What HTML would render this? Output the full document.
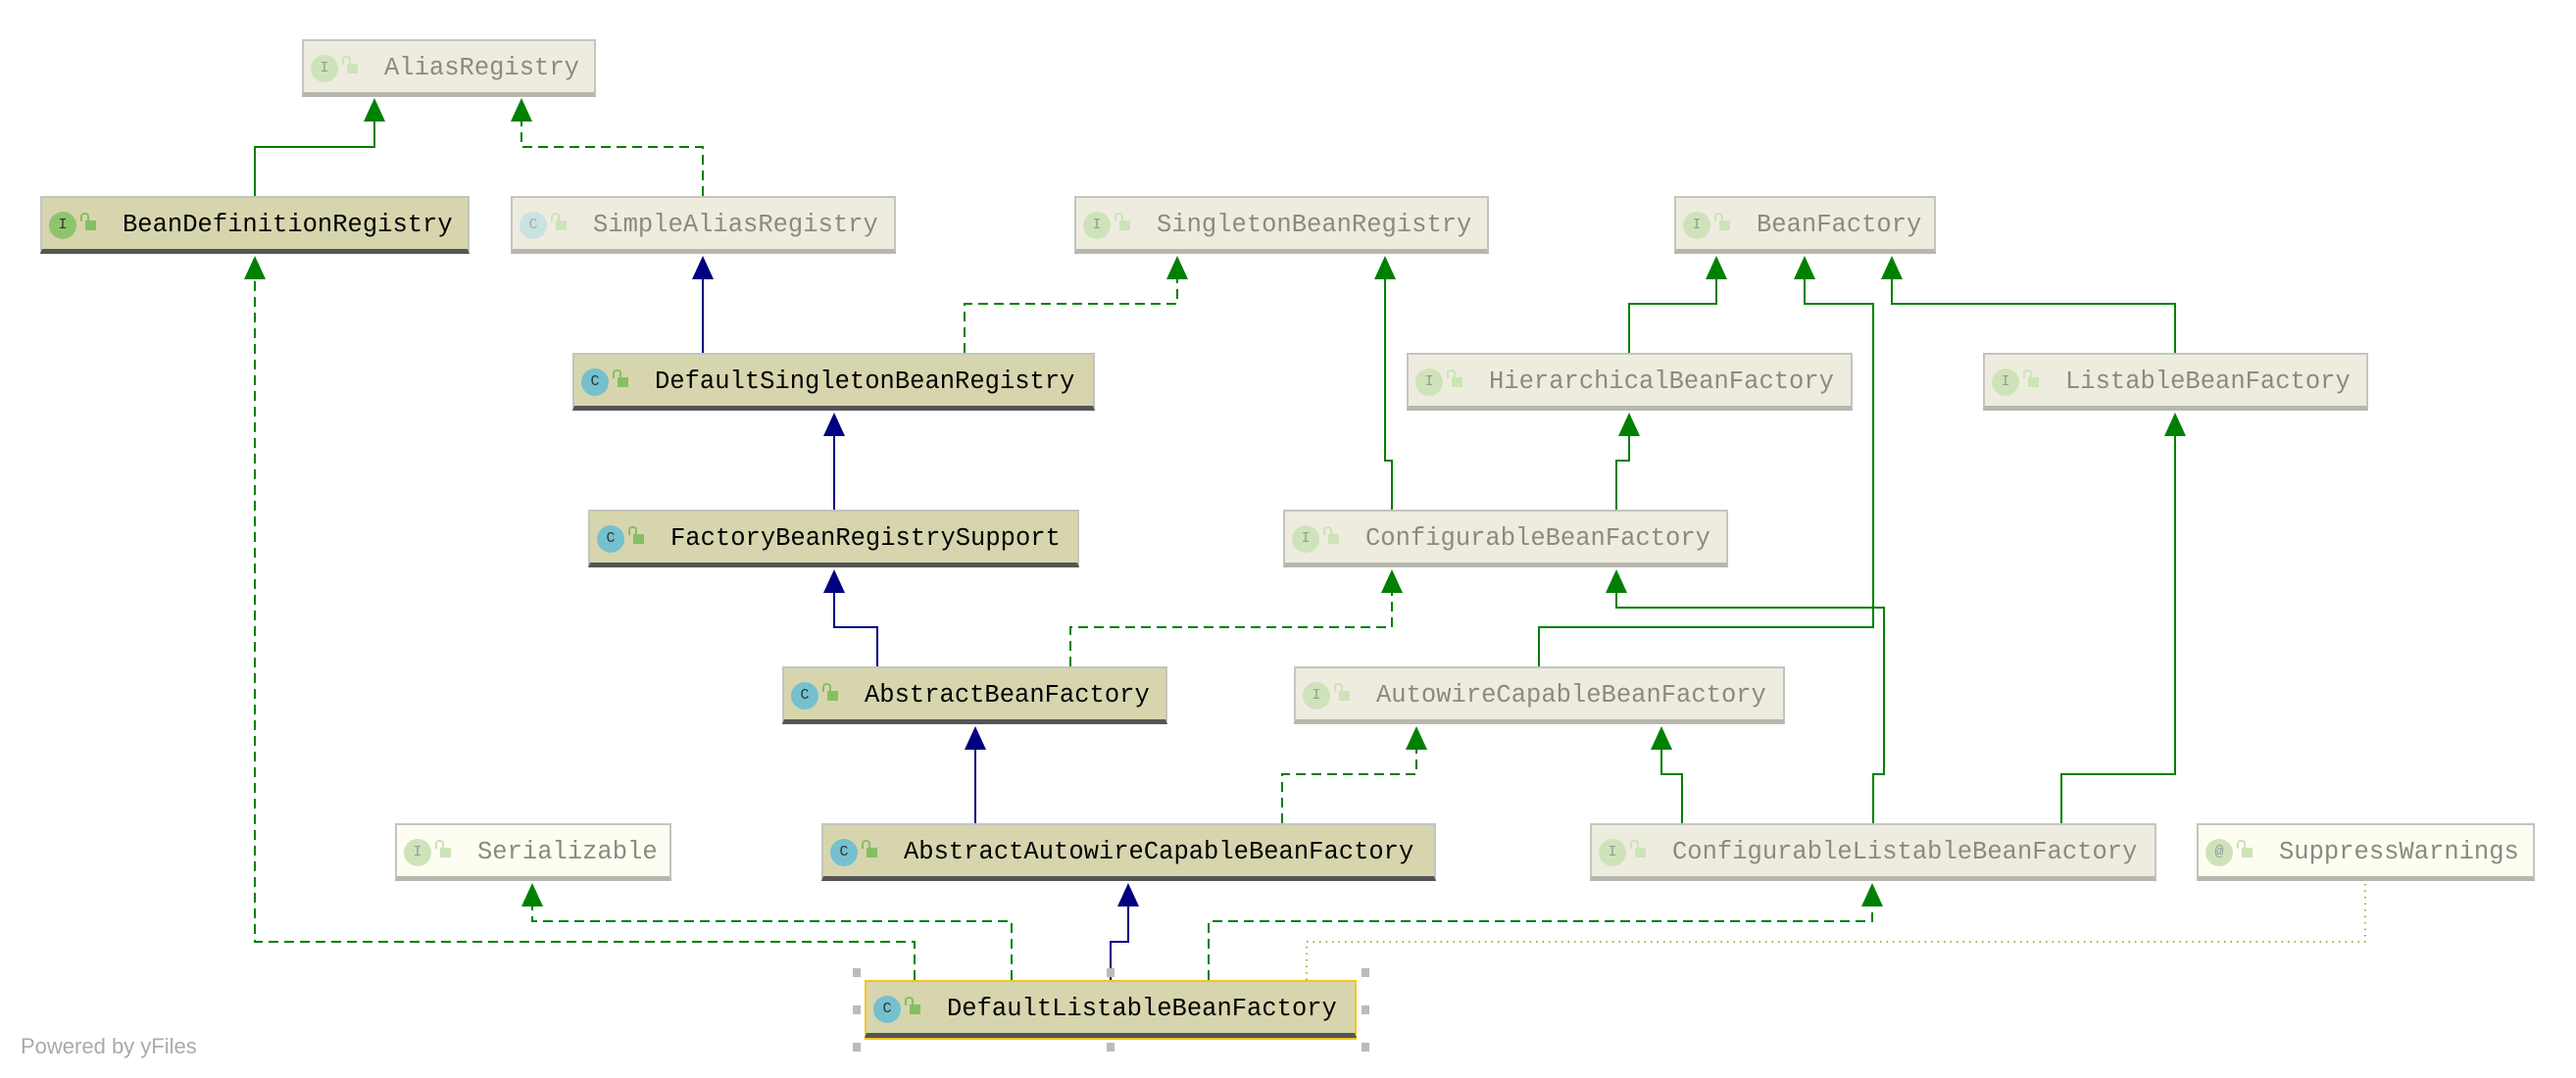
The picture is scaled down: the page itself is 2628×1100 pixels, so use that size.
<!DOCTYPE html>
<html><head><meta charset="utf-8"><style>
body{margin:0;width:2628px;height:1100px;background:#fff;position:relative;overflow:hidden;font-family:"Liberation Mono",monospace}
.b{position:absolute;height:59px;box-sizing:border-box;border:2px solid #c4c4c0;border-bottom:5px solid #b8b7ae;background:#eeecdf;color:#8a8a80;font-size:25.5px}
.b.s{background:#d7d5ae;color:#000;border-bottom-color:#555}
.b.y{background:#fdfdf1}
.b span.t{position:absolute;left:82px;top:13px;white-space:nowrap}
.ic{position:absolute;left:7px;top:14px;width:28px;height:28px;border-radius:50%;background:#cfe3ba;color:#999;font-size:15px;text-align:center;line-height:28px}
.s .ic{background:#8fc46f;color:#333}
.ic.c{background:#c9e3e3;color:#aaa}
.s .ic.c{background:#75c0cf;color:#333}
.lk{position:absolute;left:44px;top:23px;width:11px;height:10px;background:#cde3b8}
.lk:before{content:"";position:absolute;left:-5px;top:-8px;width:5px;height:7px;border:2px solid #cde3b8;border-bottom:none;border-radius:4px 4px 0 0}
.s .lk{background:#86bf62}.s .lk:before{border-color:#86bf62}
.h{position:absolute;width:8px;height:9px;background:#bbb}
</style></head><body>
<svg width="2628" height="1100" style="position:absolute;left:0;top:0">
<g fill="none" stroke-width="2">
<polyline stroke="#008000" points="260,200 260,150 382,150 382,120"/>
<polyline stroke="#008000" stroke-dasharray="10,6" points="717,200 717,150 532,150 532,120"/>
<polyline stroke="#000080" points="717,360 717,280"/>
<polyline stroke="#008000" stroke-dasharray="10,6" points="984,360 984,310 1201,310 1201,280"/>
<polyline stroke="#000080" points="851,520 851,440"/>
<polyline stroke="#000080" points="895,680 895,640 851,640 851,600"/>
<polyline stroke="#008000" stroke-dasharray="10,6" points="1092,680 1092,640 1420,640 1420,600"/>
<polyline stroke="#008000" points="1420,520 1420,470 1413,470 1413,280"/>
<polyline stroke="#008000" points="1649,520 1649,470 1662,470 1662,440"/>
<polyline stroke="#008000" points="1662,360 1662,310 1751,310 1751,280"/>
<polyline stroke="#008000" points="2219,360 2219,310 1930,310 1930,280"/>
<polyline stroke="#008000" points="1570,680 1570,640 1911,640 1911,310 1841,310 1841,280"/>
<polyline stroke="#008000" points="1911,840 1911,790 1922,790 1922,620 1649,620 1649,600"/>
<polyline stroke="#008000" points="1716,840 1716,790 1695,790 1695,760"/>
<polyline stroke="#008000" points="2103,840 2103,790 2219,790 2219,440"/>
<polyline stroke="#008000" stroke-dasharray="10,6" points="1308,840 1308,790 1445,790 1445,760"/>
<polyline stroke="#000080" points="995,840 995,760"/>
<polyline stroke="#000080" points="1133,1000 1133,961 1151,961 1151,920"/>
<polyline stroke="#008000" stroke-dasharray="10,6" points="933,1000 933,961 260,961 260,280"/>
<polyline stroke="#008000" stroke-dasharray="10,6" points="1032,1000 1032,940 543,940 543,920"/>
<polyline stroke="#008000" stroke-dasharray="10,6" points="1233,1000 1233,940 1910,940 1910,920"/>
<polyline stroke="#8a9a00" stroke-width="1.5" stroke-dasharray="1.5,5" points="1333,1000 1333,961 2413,961 2413,901"/>
</g>
<g fill="#008000">
<polygon points="382,100 371,124 393,124"/><polygon points="532,100 521,124 543,124"/>
<polygon points="1201,261 1190,285 1212,285"/><polygon points="1420,581 1409,605 1431,605"/>
<polygon points="1413,261 1402,285 1424,285"/><polygon points="1662,421 1651,445 1673,445"/>
<polygon points="1751,261 1740,285 1762,285"/><polygon points="1930,261 1919,285 1941,285"/>
<polygon points="1841,261 1830,285 1852,285"/><polygon points="1649,581 1638,605 1660,605"/>
<polygon points="1695,741 1684,765 1706,765"/><polygon points="2219,421 2208,445 2230,445"/>
<polygon points="1445,741 1434,765 1456,765"/><polygon points="260,261 249,285 271,285"/>
<polygon points="543,901 532,925 554,925"/><polygon points="1910,901 1899,925 1921,925"/>
</g>
<g fill="#000080">
<polygon points="717,261 706,285 728,285"/><polygon points="851,421 840,445 862,445"/>
<polygon points="851,581 840,605 862,605"/><polygon points="995,741 984,765 1006,765"/>
<polygon points="1151,901 1140,925 1162,925"/>
</g>
</svg>

<div class="b" style="left:308px;top:40px;width:300px"><div class="ic">I</div><div class="lk"></div><span class="t">AliasRegistry</span></div>
<div class="b s" style="left:41px;top:200px;width:438px"><div class="ic">I</div><div class="lk"></div><span class="t">BeanDefinitionRegistry</span></div>
<div class="b" style="left:521px;top:200px;width:393px"><div class="ic c">C</div><div class="lk"></div><span class="t">SimpleAliasRegistry</span></div>
<div class="b" style="left:1096px;top:200px;width:423px"><div class="ic">I</div><div class="lk"></div><span class="t">SingletonBeanRegistry</span></div>
<div class="b" style="left:1708px;top:200px;width:267px"><div class="ic">I</div><div class="lk"></div><span class="t">BeanFactory</span></div>
<div class="b s" style="left:584px;top:360px;width:533px"><div class="ic c">C</div><div class="lk"></div><span class="t">DefaultSingletonBeanRegistry</span></div>
<div class="b" style="left:1435px;top:360px;width:455px"><div class="ic">I</div><div class="lk"></div><span class="t">HierarchicalBeanFactory</span></div>
<div class="b" style="left:2023px;top:360px;width:393px"><div class="ic">I</div><div class="lk"></div><span class="t">ListableBeanFactory</span></div>
<div class="b s" style="left:600px;top:520px;width:501px"><div class="ic c">C</div><div class="lk"></div><span class="t">FactoryBeanRegistrySupport</span></div>
<div class="b" style="left:1309px;top:520px;width:454px"><div class="ic">I</div><div class="lk"></div><span class="t">ConfigurableBeanFactory</span></div>
<div class="b s" style="left:798px;top:680px;width:393px"><div class="ic c">C</div><div class="lk"></div><span class="t">AbstractBeanFactory</span></div>
<div class="b" style="left:1320px;top:680px;width:501px"><div class="ic">I</div><div class="lk"></div><span class="t">AutowireCapableBeanFactory</span></div>
<div class="b y" style="left:403px;top:840px;width:282px"><div class="ic">I</div><div class="lk"></div><span class="t">Serializable</span></div>
<div class="b s" style="left:838px;top:840px;width:627px"><div class="ic c">C</div><div class="lk"></div><span class="t">AbstractAutowireCapableBeanFactory</span></div>
<div class="b" style="left:1622px;top:840px;width:578px"><div class="ic">I</div><div class="lk"></div><span class="t">ConfigurableListableBeanFactory</span></div>
<div class="b y" style="left:2241px;top:840px;width:345px"><div class="ic">@</div><div class="lk"></div><span class="t">SuppressWarnings</span></div>
<div class="b s" style="left:882px;top:1000px;width:502px;border-color:#f5c518;border-bottom:5px solid #555;box-shadow:0 2px 0 #f5c518"><div class="ic c">C</div><div class="lk"></div><span class="t">DefaultListableBeanFactory</span></div>

<div class="h" style="left:870px;top:988px"></div><div class="h" style="left:1129px;top:988px"></div><div class="h" style="left:1389px;top:988px"></div>
<div class="h" style="left:870px;top:1026px"></div><div class="h" style="left:1389px;top:1026px"></div>
<div class="h" style="left:870px;top:1064px"></div><div class="h" style="left:1129px;top:1064px"></div><div class="h" style="left:1389px;top:1064px"></div>

<div style="position:absolute;left:21px;top:1055px;font-family:'Liberation Sans',sans-serif;font-size:22px;color:#aaa">Powered by yFiles</div>
</body></html>
